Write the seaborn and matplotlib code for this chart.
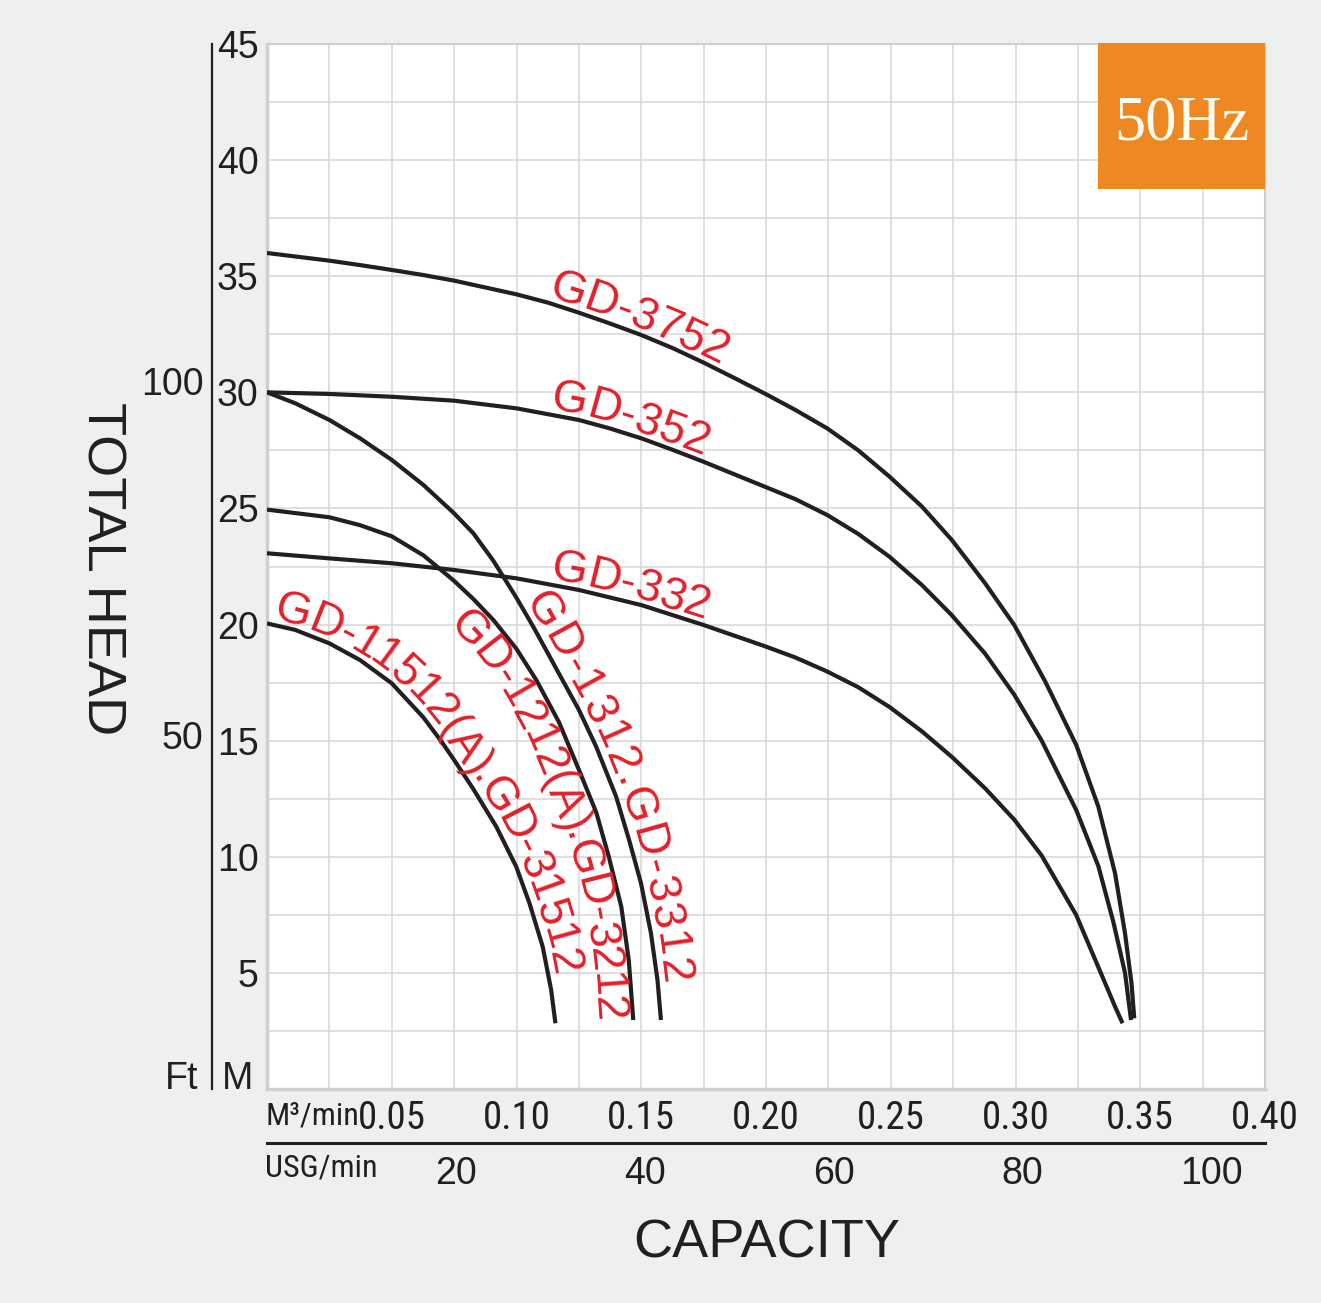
import numpy as np
import pandas as pd
import matplotlib
matplotlib.use("Agg")
import matplotlib.pyplot as plt
import seaborn as sns
from matplotlib.font_manager import FontProperties, fontManager
from matplotlib.patches import Rectangle

# 50Hz pump curves: capacity (m3/min) vs total head (m)
q_3752 = [0, 0.025, 0.0373, 0.05, 0.0627, 0.075, 0.0873, 0.10, 0.1127, 0.125, 0.1373,
          0.15, 0.1627, 0.175, 0.188, 0.20, 0.2118, 0.2245, 0.237, 0.2495, 0.2625,
          0.2745, 0.2878, 0.2995, 0.3119, 0.3244, 0.3332, 0.3399, 0.3439, 0.3465, 0.3476]
h_3752 = [36.0, 35.67, 35.48, 35.27, 35.05, 34.81, 34.52, 34.22, 33.86, 33.43, 32.97,
          32.47, 31.9, 31.28, 30.58, 29.92, 29.24, 28.45, 27.5, 26.37, 25.08,
          23.64, 21.78, 19.98, 17.55, 14.8, 12.16, 9.29, 6.7, 4.55, 3.04]

q_352 = [0, 0.025, 0.05, 0.075, 0.10, 0.125, 0.1373, 0.15, 0.1627, 0.175, 0.188,
         0.1992, 0.2118, 0.2245, 0.237, 0.2495, 0.2625, 0.2745, 0.2878, 0.2995,
         0.3105, 0.3244, 0.3332, 0.3392, 0.3439, 0.3463]
h_352 = [30.0, 29.93, 29.81, 29.64, 29.31, 28.81, 28.45, 28.02, 27.52, 27.01, 26.44,
         25.95, 25.4, 24.72, 23.9, 22.92, 21.7, 20.4, 18.75, 16.98,
         15.0, 12.0, 9.6, 7.2, 5.0, 2.97]

q_332 = [0, 0.025, 0.05, 0.075, 0.10, 0.125, 0.15, 0.175, 0.20, 0.2118, 0.2245, 0.237,
         0.2495, 0.2625, 0.2745, 0.2878, 0.2995, 0.3105, 0.3243, 0.3332, 0.3399, 0.3429]
h_332 = [23.07, 22.85, 22.64, 22.35, 21.99, 21.49, 20.84, 19.98, 19.05, 18.58, 17.98, 17.3,
         16.45, 15.4, 14.3, 12.95, 11.6, 10.05, 7.5, 5.25, 3.55, 2.83]

q_1312 = [0, 0.0113, 0.025, 0.0373, 0.05, 0.0627, 0.075, 0.0827, 0.0907, 0.10, 0.1067,
          0.1133, 0.1172, 0.1249, 0.1319, 0.1399, 0.1452, 0.1499, 0.1539, 0.1565, 0.1579]
h_1312 = [30.0, 29.53, 28.81, 28.02, 27.09, 26.01, 24.79, 23.93, 22.75, 21.15, 19.91,
          18.62, 17.85, 16.35, 14.75, 12.6, 10.7, 8.86, 6.7, 4.7, 2.97]

q_1212 = [0, 0.025, 0.0373, 0.05, 0.0627, 0.0692, 0.075, 0.0827, 0.0907, 0.10, 0.108,
          0.117, 0.125, 0.132, 0.137, 0.142, 0.145, 0.1468]
h_1212 = [24.95, 24.62, 24.28, 23.8, 22.98, 22.4, 21.88, 21.1, 20.2, 18.95, 17.6,
          15.8, 13.75, 11.9, 10.0, 7.85, 5.55, 2.97]

q_11512 = [0, 0.0113, 0.025, 0.0373, 0.05, 0.0627, 0.07, 0.0748, 0.0825, 0.0919, 0.0999,
           0.1052, 0.1105, 0.1139, 0.1156]
h_11512 = [20.05, 19.77, 19.19, 18.47, 17.47, 16.0, 14.95, 14.2, 12.95, 11.3, 9.57,
           8.0, 6.13, 4.26, 2.83]

models = ["GD-3752", "GD-352", "GD-332", "GD-1312.GD-3312",
          "GD-1212(A).GD-3212", "GD-11512(A).GD-31512"]
q_all = [q_3752, q_352, q_332, q_1312, q_1212, q_11512]
h_all = [h_3752, h_352, h_332, h_1312, h_1212, h_11512]
# where each curve label starts (capacity), which side of the curve, letter spacing
label_start = [0.112, 0.113, 0.113, 0.101, 0.083, 0.002]
label_side = [1, 1, 1, 1, -1, 1]
label_track = [1.0, 1.0, 1.0, 1.08, 0.97, 0.97]

m3_ticks = [0.05, 0.10, 0.15, 0.20, 0.25, 0.30, 0.35, 0.40]
usg_ticks = [20, 40, 60, 80, 100]
m_ticks = [5, 10, 15, 20, 25, 30, 35, 40, 45]
ft_ticks = [50, 100]

BG = "#EEEFF1"
INK = "#231F20"
RED = "#E2202A"
ORANGE = "#EE8822"
GRID = "#D6D6D6"
SANS = "Liberation Sans"

plt.rcParams["font.family"] = [SANS, "DejaVu Sans"]


def narrow_font():
    """Find an upright condensed sans face for the capacity row, if one is installed."""
    upright = [f for f in fontManager.ttflist
               if f.style == "normal" and f.weight in (400, "normal", "regular")]
    names = ("Liberation Sans Narrow", "Roboto Condensed", "Open Sans Condensed",
             "Noto Sans Condensed", "DejaVu Sans Condensed")
    for f in upright:
        if f.name in names:
            return f.fname
    for f in upright:
        if f.name in ("DejaVu Sans", "Noto Sans", "Open Sans", "Roboto") and \
                str(f.stretch) in ("condensed", "semi-condensed"):
            return f.fname
    return None


narrow_file = narrow_font()
if narrow_file:
    fp_xtick = FontProperties(fname=narrow_file, size=28)
    fp_unit = FontProperties(fname=narrow_file, size=23)
else:
    fp_xtick = FontProperties(family=SANS, size=24)
    fp_unit = FontProperties(family=SANS, size=20)


def curve_label(ax, q, h, text, q_start, side, track=1.0, size=33, gap=5):
    """Write text character by character along a curve."""
    renderer = ax.figure.canvas.get_renderer()
    fp = FontProperties(family=SANS, size=size)
    pts = ax.transData.transform(np.column_stack([q, h]))
    tang = np.gradient(pts, axis=0)
    tang /= np.hypot(tang[:, 0], tang[:, 1])[:, None]
    norm = np.column_stack([-tang[:, 1], tang[:, 0]])
    cap = renderer.get_text_width_height_descent("H", fp, ismath=False)[1]
    off = gap if side > 0 else -(gap + cap)
    path = pts + norm * off
    s = np.concatenate([[0], np.cumsum(np.hypot(*np.diff(path, axis=0).T))])
    s0 = np.interp(q_start, q, s)

    def at(v):
        return np.array([np.interp(v, s, path[:, 0]), np.interp(v, s, path[:, 1])])

    for i, ch in enumerate(text):
        right = renderer.get_text_width_height_descent(text[:i + 1], fp, ismath=False)[0]
        cw = renderer.get_text_width_height_descent(ch, fp, ismath=False)[0]
        sc = s0 + track * (right - cw / 2)
        a, b = at(sc - 12), at(sc + 12)
        ang = np.degrees(np.arctan2(b[1] - a[1], b[0] - a[0]))
        x, y = ax.transData.inverted().transform(at(sc))
        ax.text(x, y, ch, fontproperties=fp, color=RED, rotation=ang,
                rotation_mode="anchor", ha="center", va="baseline", zorder=4)


fig = plt.figure(figsize=(13.21, 13.03), dpi=100, facecolor=BG)
ax = fig.add_axes([267 / 1321, 1 - 1089 / 1303, 998 / 1321, 1045 / 1303])
ax.set_facecolor("white")

df = pd.concat([pd.DataFrame({"model": m, "q": q, "h": h})
                for m, q, h in zip(models, q_all, h_all)], ignore_index=True)
sns.lineplot(data=df, x="q", y="h", units="model", estimator=None, sort=False,
             color=INK, lw=3, ax=ax, legend=False, zorder=3,
             solid_joinstyle="round", solid_capstyle="butt")

ax.set_xlim(0, 0.4)
ax.set_ylim(0, 45)
ax.set_xlabel("")
ax.set_ylabel("")

ax.set_xticks(m3_ticks, [f"{v:.2f}" for v in m3_ticks])
ax.set_xticks(np.arange(0, 0.4001, 0.025), minor=True)
ax.set_yticks(m_ticks, [str(v) for v in m_ticks])
ax.set_yticks(np.arange(0, 45.01, 2.5), minor=True)
ax.tick_params(which="both", length=0)
ax.tick_params(axis="x", pad=8, labelcolor=INK)
ax.tick_params(axis="y", pad=6, labelsize=27, labelcolor=INK)
for t in ax.get_xticklabels():
    t.set_fontproperties(fp_xtick)
ax.grid(which="both", color=GRID, lw=1.1)
ax.set_axisbelow(True)
for sp in ax.spines.values():
    sp.set_color("#CFCFCF")
    sp.set_linewidth(1.5)
ax.spines["left"].set_linewidth(2.5)
ax.spines["bottom"].set_linewidth(2.5)

# feet scale on the left, its spine is the black divider line
ft = ax.secondary_yaxis(-55 / 998, functions=(lambda m: m * 3.28084, lambda f: f / 3.28084))
ft.set_yticks(ft_ticks, [str(v) for v in ft_ticks])
ft.tick_params(length=0, pad=6, labelsize=27, labelcolor=INK)
ft.spines["left"].set_color(INK)
ft.spines["left"].set_linewidth(1.6)

# US gallons scale under the m3 scale
usg = ax.secondary_xaxis(-54 / 1045, functions=(lambda q: q * 264.172, lambda g: g / 264.172))
usg.set_xticks(usg_ticks, [str(v) for v in usg_ticks])
usg.tick_params(length=0, pad=9, labelsize=27, labelcolor=INK)
usg.spines["bottom"].set_color(INK)
usg.spines["bottom"].set_linewidth(2.2)

ax.text(-0.002, -27 / 1045, "M³/min", transform=ax.transAxes, ha="left", va="center",
        fontproperties=fp_unit, color=INK)
ax.text(-0.002, -79 / 1045, "USG/min", transform=ax.transAxes, ha="left", va="center",
        fontproperties=fp_unit, color=INK)
ax.text(-45 / 998, 0, "M", transform=ax.get_yaxis_transform(), ha="left", va="baseline",
        size=27, color=INK)
ax.text(-69 / 998, 0, "Ft", transform=ax.get_yaxis_transform(), ha="right", va="baseline",
        size=27, color=INK)

fig.text(101 / 1321, 1 - 569 / 1303, "TOTAL HEAD", rotation=-90, ha="center", va="center",
         size=39, color=INK)
fig.text(767 / 1321, 1 - 1243 / 1303, "CAPACITY", ha="center", va="center", size=39, color=INK)

ax.add_patch(Rectangle((0.8327, 0.8612), 0.1673, 0.1397, transform=ax.transAxes,
                       facecolor=ORANGE, edgecolor="none", zorder=5, clip_on=False))
ax.text(0.9168, 0.930, "50Hz", transform=ax.transAxes, ha="center", va="center_baseline",
        fontfamily="Liberation Serif", size=45, color="#FFFDF2", zorder=6)

for m, q, h, qs, side, tr in zip(models, q_all, h_all, label_start, label_side, label_track):
    curve_label(ax, q, h, m, qs, side, track=tr)

fig.savefig("out.png", dpi=100, facecolor=BG)
